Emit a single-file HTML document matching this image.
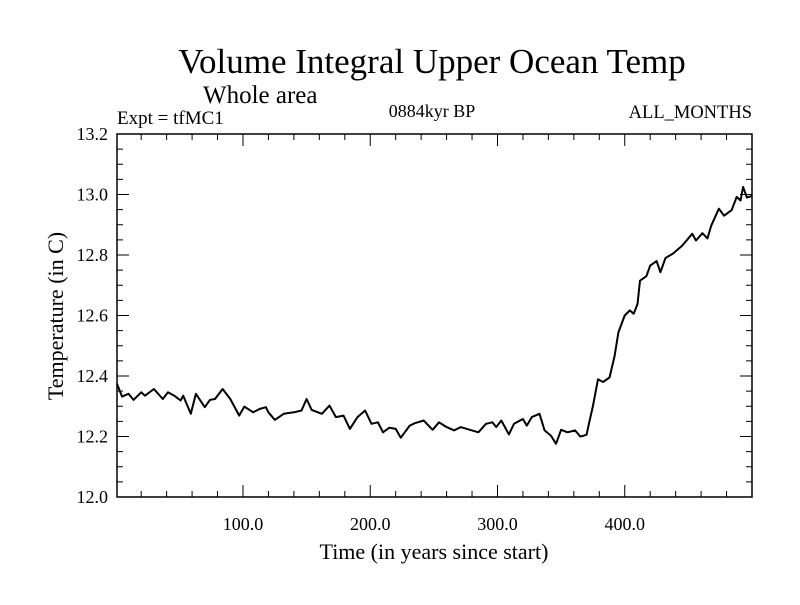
<!DOCTYPE html>
<html><head><meta charset="utf-8"><style>
body{margin:0;background:#fff;}
svg text{font-family:"Liberation Serif",serif;fill:#000;}
</style></head><body>
<svg id="c" width="800" height="600" xmlns="http://www.w3.org/2000/svg">
<rect width="800" height="600" fill="#fff"/>
<text x="432" y="73" font-size="35" text-anchor="middle">Volume Integral Upper Ocean Temp</text>
<text x="203" y="103" font-size="25">Whole area</text>
<text x="117" y="124" font-size="19">Expt = tfMC1</text>
<text x="432" y="117" font-size="18" text-anchor="middle">0884kyr BP</text>
<text x="752" y="118" font-size="18.5" text-anchor="end">ALL_MONTHS</text>
<text x="434" y="559" font-size="22" text-anchor="middle">Time (in years since start)</text>
<text transform="translate(63,316) rotate(-90)" font-size="22" text-anchor="middle">Temperature (in C)</text>
<g id="axes"></g>
<path id="line" fill="none" stroke="#000" stroke-width="2" stroke-linejoin="round"/>
</svg>
<script>
const years=[1,5,10,14,20,23,30,37,41,46,51,53,59,63,70,74,78,84,90,97,101,108,113,118,120,125,132,140,146,150,154,162,168,173,179,184,190,196,201,206,210,215,220,224,231,235,242,249,254,260,266,271,280,285,291,296,299,303,309,313,320,323,327,333,337,342,346,350,355,361,365,368,370,372,375,379,383,388,392,395,400,404,407,410,412,417,420,425,428,432,438,445,453,456,461,465,468,474,478,484,488,491,493,496,500];
const temps=[12.374,12.332,12.341,12.321,12.346,12.335,12.357,12.324,12.346,12.335,12.319,12.335,12.275,12.341,12.297,12.321,12.324,12.357,12.324,12.269,12.299,12.28,12.291,12.297,12.28,12.255,12.275,12.28,12.286,12.324,12.288,12.275,12.302,12.264,12.269,12.225,12.264,12.286,12.242,12.247,12.214,12.229,12.225,12.196,12.236,12.244,12.253,12.222,12.247,12.231,12.22,12.231,12.22,12.214,12.242,12.247,12.231,12.253,12.207,12.242,12.258,12.236,12.264,12.275,12.22,12.203,12.176,12.222,12.214,12.22,12.2,12.203,12.206,12.245,12.30,12.389,12.38,12.395,12.466,12.544,12.60,12.617,12.606,12.638,12.715,12.73,12.765,12.78,12.743,12.79,12.805,12.83,12.87,12.848,12.872,12.855,12.898,12.953,12.93,12.948,12.992,12.98,13.025,12.99,12.995];
const yTickLabels=["12.0","12.2","12.4","12.6","12.8","13.0","13.2"];
const xTickLabels=["100.0","200.0","300.0","400.0"];
const X0=117,X1=752,Y0=497,Y1=134,xmin=1,xmax=500,ymin=12.0,ymax=13.2;
const sx=v=>X0+(v-xmin)/(xmax-xmin)*(X1-X0);
const sy=v=>Y0-(v-ymin)/(ymax-ymin)*(Y0-Y1);
const NS="http://www.w3.org/2000/svg";
const g=document.getElementById('axes');
function mk(t,a){const e=document.createElementNS(NS,t);for(const k in a)e.setAttribute(k,a[k]);g.appendChild(e);return e;}
const fr=mk('rect',{x:X0,y:Y1,width:X1-X0,height:Y0-Y1,fill:'none',stroke:'#000','stroke-width':1.5});


for(let i=0;i<=24;i++){const v=12+i*0.05,y=sy(v),L=i%4==0?12:6;
 const t1=mk('line',{x1:X0,x2:X0+L,y1:y,y2:y,stroke:'#000','stroke-width':1});
 
 
 const t2=mk('line',{x1:X1,x2:X1-L,y1:y,y2:y,stroke:'#000','stroke-width':1});
 
 }
yTickLabels.forEach(s=>{const e=mk('text',{x:X0-9,y:sy(parseFloat(s))+6,'font-size':18,'text-anchor':'end'});e.textContent=s;
 
 });
for(let v=20;v<500;v+=20){const x=sx(v),L=v%100==0?12:6;
 const t1=mk('line',{x1:x,x2:x,y1:Y0,y2:Y0-L,stroke:'#000','stroke-width':1});
 
 
 const t2=mk('line',{x1:x,x2:x,y1:Y1,y2:Y1+L,stroke:'#000','stroke-width':1});
 
 }
xTickLabels.forEach(s=>{const e=mk('text',{x:sx(parseFloat(s)),y:530,'font-size':18,'text-anchor':'middle'});e.textContent=s;
 
 });
document.getElementById('line').setAttribute('d',years.map((yr,i)=>(i?'L':'M')+sx(yr).toFixed(1)+','+sy(temps[i]).toFixed(1)).join(''));
</script>
</body></html>
